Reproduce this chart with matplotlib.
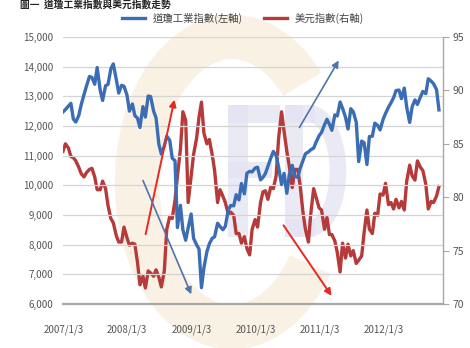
import numpy as np
import pandas as pd
import matplotlib
matplotlib.use('Agg')
import matplotlib.pyplot as plt
from matplotlib.patches import Arc, Rectangle

plt.rcParams['font.family'] = ['Noto Sans CJK TC', 'DejaVu Sans']

# semi-monthly closes, 2007/1 - 2012/11
dates = pd.date_range('2007-01-01', '2012-11-15', freq='SMS')

dow_2007 = [12474, 12556, 12673, 12765, 12234, 12133, 12354, 12720, 13062, 13346, 13668, 13639,
            13408, 13971, 13212, 12861, 13357, 13403, 13930, 14093, 13567, 13110, 13371, 13339]
dow_2008 = [13044, 12501, 12743, 12348, 12266, 11951, 12654, 12302, 13010, 12992, 12503, 12269,
            11382, 11055, 11326, 11659, 11516, 10917, 10831, 8577, 9325, 8497, 8149, 8565]
dow_2009 = [9034, 8212, 8000, 7850, 6550, 7223, 7761, 8029, 8212, 8268, 8721, 8612,
            8504, 8616, 9172, 9321, 9310, 9683, 9509, 10062, 9712, 10406, 10471, 10452]
dow_2010 = [10583, 10610, 10185, 10268, 10403, 10642, 10927, 11144, 11008, 10620, 10025, 10404,
            9732, 10359, 10674, 10303, 10270, 10572, 10829, 11062, 11125, 11201, 11255, 11457]
dow_2011 = [11670, 11787, 12040, 12226, 12058, 11855, 12376, 12341, 12810, 12596, 12290, 11897,
            12582, 12480, 12132, 10800, 11493, 11433, 10700, 11644, 11657, 12096, 12020, 11868]
dow_2012 = [12217, 12422, 12632, 12780, 12952, 13194, 13212, 12921, 13279, 12632, 12119, 12651,
            12880, 12727, 12976, 13165, 13090, 13593, 13515, 13424, 13232, 12542]

usd_2007 = [84.3, 85.0, 84.6, 83.8, 83.7, 83.4, 82.8, 82.2, 81.9, 82.3, 82.6, 82.7,
            81.9, 80.7, 80.7, 81.5, 80.8, 79.2, 78.0, 77.6, 76.4, 75.8, 75.8, 77.2]
usd_2008 = [76.2, 75.5, 75.7, 75.6, 73.9, 71.8, 72.6, 71.5, 73.1, 72.9, 72.6, 73.2,
            72.5, 71.6, 73.1, 77.0, 78.2, 78.0, 79.7, 82.0, 84.5, 88.0, 87.2, 79.5]
usd_2009 = [82.0, 84.0, 85.5, 87.5, 88.9, 86.0, 85.0, 85.4, 84.0, 82.5, 79.5, 80.7,
            80.1, 79.5, 78.4, 78.6, 78.3, 76.6, 76.6, 75.7, 76.3, 75.2, 74.6, 77.0]
usd_2010 = [77.9, 77.2, 79.5, 80.5, 80.6, 79.8, 81.0, 80.8, 82.0, 85.5, 88.0, 86.2,
            84.3, 82.9, 80.9, 82.6, 82.6, 81.1, 78.6, 77.0, 75.8, 78.5, 80.8, 80.0]
usd_2011 = [79.0, 78.8, 77.0, 78.1, 76.5, 76.5, 75.9, 74.8, 73.0, 75.7, 74.3, 75.6,
            74.5, 75.0, 73.8, 74.1, 74.5, 76.7, 78.8, 77.0, 76.6, 78.5, 78.3, 80.3]
usd_2012 = [80.2, 81.3, 79.3, 79.5, 78.9, 79.8, 79.0, 79.6, 78.8, 81.5, 83.0, 82.0,
            81.6, 83.4, 82.8, 82.5, 81.2, 78.9, 79.6, 79.5, 80.1, 81.0]

dow = dow_2007 + dow_2008 + dow_2009 + dow_2010 + dow_2011 + dow_2012
usd = usd_2007 + usd_2008 + usd_2009 + usd_2010 + usd_2011 + usd_2012

tick_dates = ['2007-01-03', '2008-01-03', '2009-01-03', '2010-01-03', '2011-01-03', '2012-01-03']
tick_labels = ['2007/1/3', '2008/1/3', '2009/1/3', '2010/1/3', '2011/1/3', '2012/1/3']

# trend arrows: (start date, start level, end date, end level) on the left axis
red_arrows = [('2008-04-13', 8260, '2008-10-01', 12980),
              ('2010-06-03', 8730, '2011-03-22', 6200)]
blue_arrows = [('2008-03-26', 10250, '2009-01-08', 6240),
               ('2010-09-03', 11870, '2011-05-01', 14290)]

blue = '#3b6db4'
red = '#b73a3a'

fig = plt.figure(figsize=(4.7, 3.48), dpi=100)
W, H = 470.0, 348.0

# faint logo behind the plot
logo_c = Arc((232 / W, 1 - 182 / H), 190 / W, 290 / H, theta1=62, theta2=305,
             color='#f7ecd9', lw=32, alpha=0.7, transform=fig.transFigure, zorder=0)
fig.patches.append(logo_c)
lav = '#e2e2f2'
for x0, y0, w, h in [(228, 105, 20, 132), (228, 105, 52, 18), (228, 162, 44, 16),
                     (285, 105, 18, 132), (285, 105, 30, 18), (285, 219, 30, 18)]:
    fig.patches.append(Rectangle((x0 / W, 1 - (y0 + h) / H), w / W, h / H, color=lav,
                                 alpha=0.7, lw=0, transform=fig.transFigure, zorder=0))
fig.patches.append(Arc((310 / W, 1 - 171 / H), 56 / W, 114 / H, theta1=-90, theta2=90,
                       color=lav, lw=12, alpha=0.7, transform=fig.transFigure, zorder=0))

ax = fig.add_axes([63 / W, 1 - 304 / H, 380 / W, 267 / H])
ax.patch.set_alpha(0)
ax2 = ax.twinx()

ax.plot(dates, dow, color=blue, lw=2.4, label='道瓊工業指數(左軸)', zorder=3)
ax2.plot(dates, usd, color=red, lw=2.4, label='美元指數(右軸)', zorder=3)

ax.set_ylim(6000, 15000)
ax2.set_ylim(70, 95)
ax.set_xlim(pd.Timestamp('2007-01-01'), pd.Timestamp('2012-12-08'))

ax.set_yticks(np.arange(6000, 15001, 1000))
ax.set_yticklabels(['{:,}'.format(v) for v in range(6000, 15001, 1000)])
ax2.set_yticks(np.arange(70, 96, 5))
ax.set_xticks(pd.to_datetime(tick_dates))
ax.set_xticklabels(tick_labels)

ax.grid(axis='y', color='#d4d4d4', lw=0.9)
ax.set_axisbelow(True)
for s in ['top', 'left', 'right']:
    ax.spines[s].set_visible(False)
for s in ['top', 'left', 'bottom']:
    ax2.spines[s].set_visible(False)
ax.spines['bottom'].set_color('#a8a8a8')
ax.spines['bottom'].set_linewidth(1.6)
ax2.spines['right'].set_color('#a8a8a8')
ax2.spines['right'].set_linewidth(1.0)

ax.tick_params(axis='y', length=0, pad=7, labelsize=7, labelcolor='#555555')
ax.tick_params(axis='x', length=0, pad=15, labelsize=7, labelcolor='#555555')
ax2.tick_params(axis='y', length=4, width=0.8, color='#a8a8a8', pad=3,
                labelsize=7.5, labelcolor='#555555')

for x1, y1, x2, y2 in red_arrows:
    ax.annotate('', xy=(pd.Timestamp(x2), y2), xytext=(pd.Timestamp(x1), y1),
                arrowprops=dict(arrowstyle='-|>', color='#e52a22', lw=1.4,
                                mutation_scale=10), zorder=5)
for x1, y1, x2, y2 in blue_arrows:
    ax.annotate('', xy=(pd.Timestamp(x2), y2), xytext=(pd.Timestamp(x1), y1),
                arrowprops=dict(arrowstyle='-|>', color='#4f73ad', lw=1.2,
                                mutation_scale=10), zorder=5)

# blue axes on top so the Dow line and arrows sit over the dollar line
ax2.set_zorder(0.5)
ax.set_zorder(1)

h1, l1 = ax.get_legend_handles_labels()
h2, l2 = ax2.get_legend_handles_labels()
fig.legend(h1 + h2, l1 + l2, loc='center', bbox_to_anchor=(243 / W, 1 - 18 / H), ncol=2,
           frameon=False, fontsize=7.5, handlelength=2.2, columnspacing=2.0,
           labelcolor='#444444')

fig.text(20 / W, 1 - 1 / H, '圖一  道瓊工業指數與美元指數走勢', fontsize=7, fontweight='bold',
         color='#222222', va='top', ha='left')

fig.savefig('out.png', dpi=100)
